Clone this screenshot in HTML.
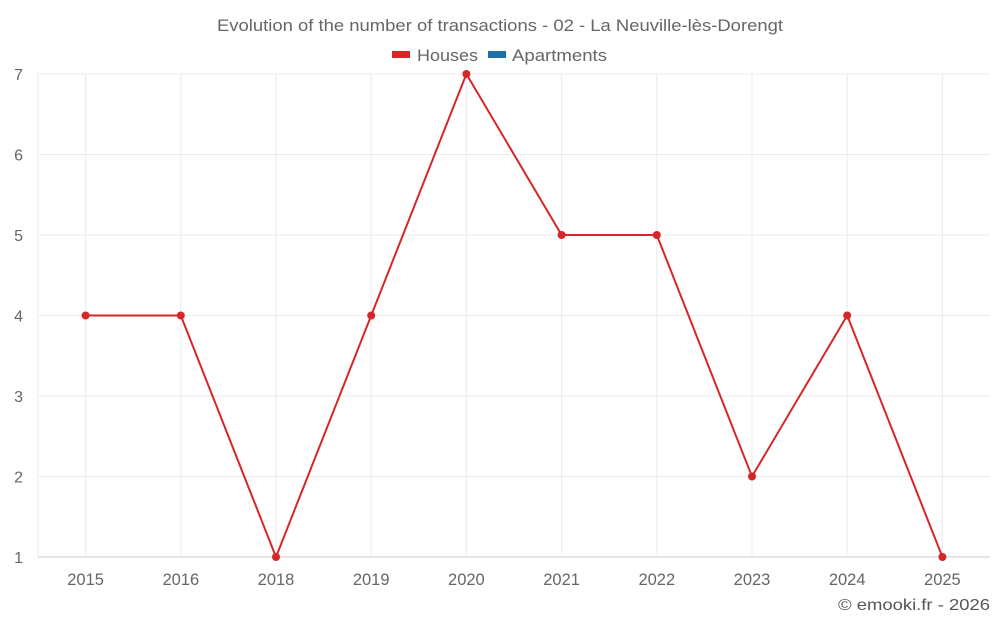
<!DOCTYPE html>
<html><head><meta charset="utf-8">
<style>
html,body{margin:0;padding:0;background:#fff;}
svg{display:block;font-family:"Liberation Sans",sans-serif;}
</style></head>
<body>
<svg id="chart" width="1000" height="625">
<text x="500" y="31" text-anchor="middle" font-size="17" fill="#666" textLength="566" lengthAdjust="spacingAndGlyphs">Evolution of the number of transactions - 02 - La Neuville-lès-Dorengt</text>
<g>
<g><rect x="392" y="51" width="18" height="7" fill="#d62728"/><text x="417" y="61" font-size="17" fill="#666" textLength="61" lengthAdjust="spacingAndGlyphs">Houses</text></g>
<g><rect x="488" y="51" width="18" height="7" fill="#1f6fa8"/><text x="512" y="61" font-size="17" fill="#666" textLength="95" lengthAdjust="spacingAndGlyphs">Apartments</text></g>
</g>
<g id="grid"></g><g id="axes"></g><g id="series"></g>
<text x="990" y="610" text-anchor="end" font-size="16" fill="#555" textLength="152" lengthAdjust="spacingAndGlyphs">© emooki.fr - 2026</text>
</svg>
<script>
const categories = ["2015","2016","2018","2019","2020","2021","2022","2023","2024","2025"];
const houses = [4,4,1,4,7,5,5,2,4,1];
const yTicks = [1,2,3,4,5,6,7];
const NS="http://www.w3.org/2000/svg";
const L=38,R=990,T=74,B=557,yMin=1,yMax=7;
const bw=(R-L)/categories.length;
const x=i=>L+bw*(i+0.5);
const y=v=>B-(v-yMin)/(yMax-yMin)*(B-T);
function mk(tag,attrs,parent){const e=document.createElementNS(NS,tag);for(const k in attrs)e.setAttribute(k,attrs[k]);document.getElementById(parent).appendChild(e);return e;}
yTicks.forEach(v=>{
 const g=mk('line',{x1:L,x2:R,y1:y(v),y2:y(v),stroke:v===yMin?'#ccc':'#ebebeb','stroke-width':1},'grid');
 
 
 const t=mk('text',{x:L-15,y:y(v)+6,'text-anchor':'end','font-size':16,fill:'#666'},'axes');
 t.textContent=v;
 
 
});
mk('line',{x1:L,x2:L,y1:T,y2:B,stroke:'#ebebeb'},'grid');
categories.forEach((c,i)=>{
 const g=mk('line',{x1:x(i),x2:x(i),y1:T,y2:B,stroke:'#ebebeb'},'grid');
 
 
 const t=mk('text',{x:x(i),y:585,'text-anchor':'middle','font-size':16.5,fill:'#666'},'axes');
 t.textContent=c;
 
 
});
const p=mk('polyline',{points:houses.map((v,i)=>x(i)+','+y(v)).join(' '),fill:'none',stroke:'#d62728','stroke-width':2},'series');


houses.forEach((v,i)=>{
 const c=mk('circle',{cx:x(i),cy:y(v),r:4,fill:'#d62728'},'series');
 
 
});
</script>
</body></html>
